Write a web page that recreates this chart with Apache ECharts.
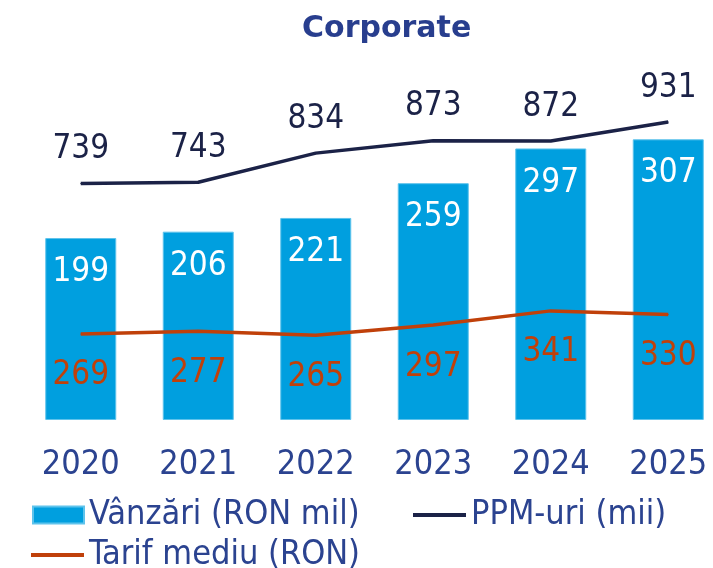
<!DOCTYPE html>
<html>
<head>
<meta charset="utf-8">
<script src="https://cdn.jsdelivr.net/npm/echarts@6/dist/echarts.min.js"></script>
<style>
  html, body { margin: 0; padding: 0; background: #fff; }
  #chartContainer { width: 713px; height: 568px; }
</style>
</head>
<body>
<div id="chartContainer"></div>
<script>
const years = ['2020', '2021', '2022', '2023', '2024', '2025'];
const sales = [199, 206, 221, 259, 297, 307];
const ppm = [739, 743, 834, 873, 872, 931];
const tariff = [269, 277, 265, 297, 341, 330];

const font = "'DejaVu Sans Condensed', 'DejaVu Sans', sans-serif";
const blueText = '#2b4390';
const legendText = { fontFamily: font, fontSize: 34, color: blueText };

const chartElement = document.querySelector('#chartContainer');
const chartInstance = echarts.init(chartElement);

const options = {
  animation: false,
  title: {
    text: 'Corporate',
    left: 297,
    top: 9,
    textStyle: {
      fontFamily: "'DejaVu Sans', sans-serif",
      fontWeight: 'bold',
      fontSize: 30,
      color: '#283e8e',
    },
  },
  legend: [
    {
      data: [{ name: 'Vânzări (RON mil)', icon: 'rect' }],
      left: 32,
      top: 498,
      padding: 0,
      itemWidth: 51,
      itemHeight: 17,
      textStyle: legendText,
    },
    {
      data: [{ name: 'PPM-uri (mii)', icon: 'rect' }],
      left: 413,
      top: 498,
      padding: 0,
      itemWidth: 53,
      itemHeight: 4,
      textStyle: legendText,
    },
    {
      data: [{ name: 'Tarif mediu (RON)', icon: 'rect' }],
      left: 31,
      top: 538,
      padding: 0,
      itemWidth: 53,
      itemHeight: 4,
      textStyle: legendText,
    },
  ],
  grid: { left: 22, width: 705, top: 100, bottom: 148, outerBoundsMode: 'none' },
  xAxis: {
    type: 'category',
    data: years,
    axisLine: { show: false },
    axisTick: { show: false },
    axisLabel: {
      margin: 28,
      fontFamily: font,
      fontSize: 34,
      color: blueText,
    },
  },
  yAxis: [
    { type: 'value', min: 0, max: 350, show: false, splitLine: { show: false } },
    { type: 'value', min: 0, max: 1000, show: false, splitLine: { show: false } },
  ],
  series: [
    {
      name: 'Vânzări (RON mil)',
      type: 'bar',
      data: sales,
      yAxisIndex: 0,
      barWidth: 71,
      itemStyle: { color: '#009fdf', borderColor: '#5ec3ec', borderWidth: 1 },
      label: {
        show: true,
        position: 'insideTop',
        distance: 18,
        fontFamily: font,
        fontSize: 33,
        color: '#ffffff',
      },
    },
    {
      name: 'PPM-uri (mii)',
      type: 'line',
      data: ppm,
      yAxisIndex: 1,
      symbol: 'circle',
      symbolSize: 1,
      lineStyle: { color: '#1b2247', width: 3.5 },
      itemStyle: { color: '#1b2247' },
      label: {
        show: true,
        position: 'top',
        distance: 17,
        fontFamily: font,
        fontSize: 33,
        color: '#1b2247',
      },
    },
    {
      name: 'Tarif mediu (RON)',
      type: 'line',
      data: tariff,
      yAxisIndex: 1,
      symbol: 'circle',
      symbolSize: 1,
      lineStyle: { color: '#c0400a', width: 3.5 },
      itemStyle: { color: '#c0400a' },
      label: {
        show: true,
        position: 'bottom',
        distance: 25,
        fontFamily: font,
        fontSize: 33,
        color: '#c0400a',
      },
    },
  ],
};
chartInstance.setOption(options);
</script>
</body>
</html>
